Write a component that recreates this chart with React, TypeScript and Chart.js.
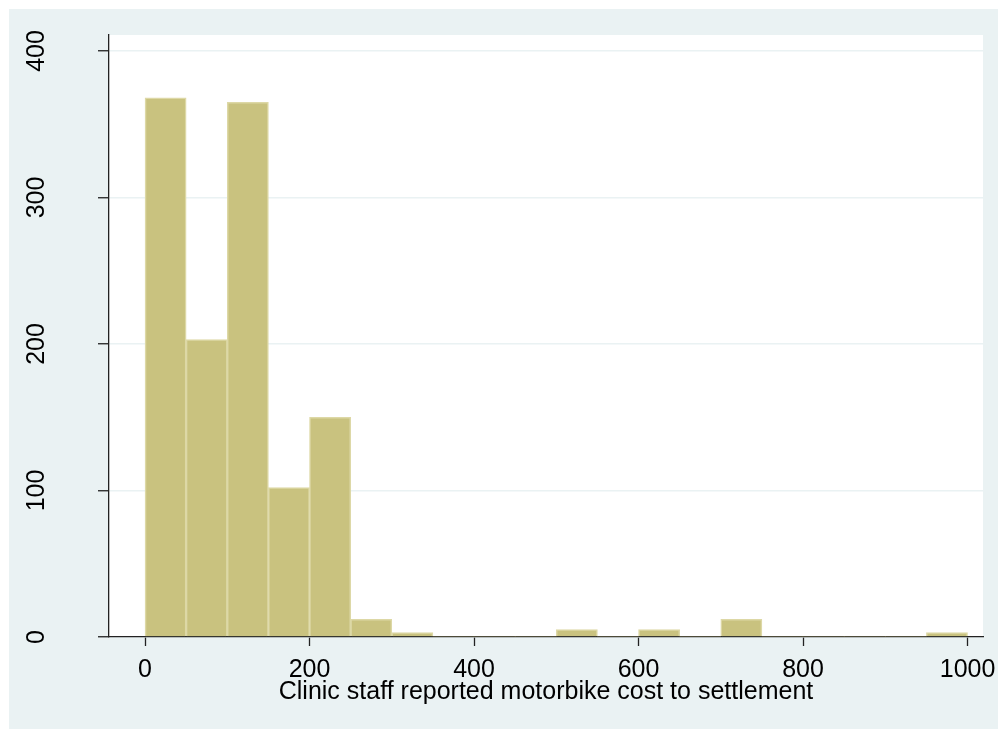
import React, { useEffect, useRef } from "react";
import { Chart, registerables } from "chart.js";

Chart.register(...registerables);

// Histogram bins (lower edge of each bin) and their frequencies
const binLower = [0, 50, 100, 150, 200, 250, 300, 350, 400, 450, 500, 550, 600, 650, 700, 750, 800, 850, 900, 950];
const binWidth = 50;
const frequency = [368, 203, 365, 102, 150, 12, 3, 0, 0, 0, 5, 0, 5, 0, 12, 0, 0, 0, 0, 3];
const xTicks = [0, 200, 400, 600, 800, 1000];
const yTicks = [0, 100, 200, 300, 400];
const xTitle = "Clinic staff reported motorbike cost to settlement";

const BG = "#EAF2F3";
const BAR_FILL = "#C9C27F";
const BAR_EDGE = "#DDD8A6";
const AXIS = "#222222";
const FONT = "'Liberation Sans', Arial, sans-serif";

const bgPlugin = {
  id: "stataBg",
  beforeDraw(chart: any) {
    const { ctx, chartArea, width, height } = chart;
    ctx.save();
    ctx.fillStyle = "#ffffff";
    ctx.fillRect(0, 0, width, height);
    ctx.fillStyle = BG;
    ctx.fillRect(9, 9, width - 9, height - 9);
    ctx.fillStyle = "#ffffff";
    ctx.fillRect(chartArea.left, chartArea.top, chartArea.right - chartArea.left, chartArea.bottom - chartArea.top);
    ctx.restore();
  },
};

export default function App() {
  const ref = useRef<HTMLCanvasElement | null>(null);

  useEffect(() => {
    if (!ref.current) return;
    const chart = new Chart(ref.current, {
      type: "bar",
      data: {
        datasets: [
          {
            data: binLower.map((l, i) => ({ x: l + binWidth / 2, y: frequency[i] })),
            backgroundColor: BAR_FILL,
            borderColor: BAR_EDGE,
            borderWidth: (c: any) => (c.raw && c.raw.y > 0 ? 1.5 : 0),
            borderSkipped: "start",
            barPercentage: 1,
            categoryPercentage: 1,
          } as any,
        ],
      },
      options: {
        animation: false,
        responsive: false,
        events: [],
        layout: { padding: { left: 0, top: 35, right: 15, bottom: 0 } },
        plugins: { legend: { display: false }, tooltip: { enabled: false } },
        scales: {
          x: {
            type: "linear",
            min: -43.8,
            max: 1018.8,
            offset: false,
            grid: {
              drawOnChartArea: false,
              offset: false,
              tickLength: 9,
              tickColor: AXIS,
              tickWidth: 1.3,
            },
            border: { color: AXIS, width: 1.3 },
            ticks: {
              font: { family: FONT, size: 25 },
              color: "#000",
              padding: 9,
              maxRotation: 0,
              autoSkip: false,
              callback: (v: any) => String(v),
            },
            title: {
              display: true,
              text: xTitle,
              font: { family: FONT, size: 25 },
              color: "#000",
              padding: { top: 0, bottom: 22 },
            },
            afterBuildTicks: (s: any) => {
              s.ticks = xTicks.map((v) => ({ value: v }));
            },
            afterFit: (s: any) => {
              s.height = 92;
              s.paddingLeft = 0;
              s.paddingRight = 0;
            },
          } as any,
          y: {
            type: "linear",
            min: 0,
            max: 410.9,
            grid: {
              color: BG,
              lineWidth: 1.5,
              tickLength: 11,
              tickColor: AXIS,
              tickWidth: 1.3,
            },
            border: { color: AXIS, width: 1.3 },
            ticks: {
              font: { family: FONT, size: 25 },
              color: "#000",
              minRotation: 90,
              maxRotation: 90,
              crossAlign: "center",
              padding: 40,
              callback: (v: any) => String(v),
            },
            afterBuildTicks: (s: any) => {
              s.ticks = yTicks.map((v) => ({ value: v }));
            },
            afterFit: (s: any) => {
              s.width = 109;
              s.paddingTop = 0;
              s.paddingBottom = 0;
            },
          } as any,
        },
      },
      plugins: [bgPlugin],
    });
    return () => chart.destroy();
  }, []);

  return (
    <div style={{ position: "fixed", left: 0, top: 0, width: 998, height: 729 }}>
      <canvas ref={ref} width={998} height={729} style={{ display: "block", width: 998, height: 729 }} />
    </div>
  );
}
